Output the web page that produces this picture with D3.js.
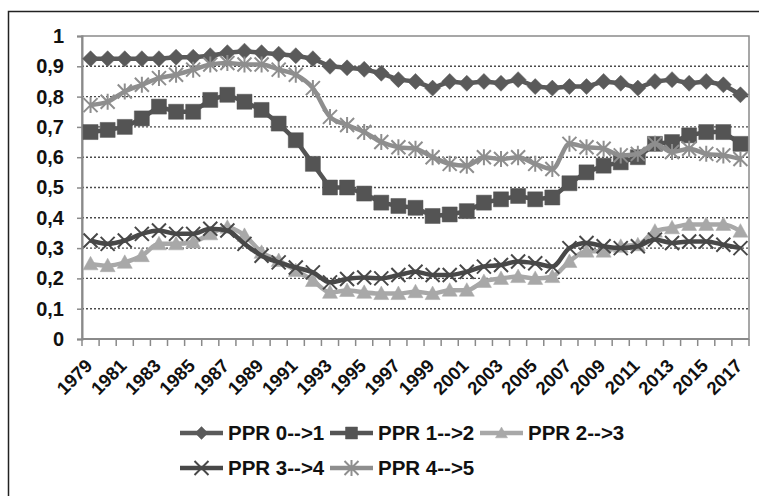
<!DOCTYPE html>
<html>
<head>
<meta charset="utf-8">
<script src="https://cdn.jsdelivr.net/npm/d3@7"></script>
<style>
  body { margin: 0; background: #fff; }
  svg { display: block; font-family: "Liberation Sans", Arial, sans-serif; }
</style>
</head>
<body>
<svg id="chart" width="759" height="496"></svg>
<script>
// years on the category axis
var years = d3.range(1979, 2018);
var yTicks = [0, 0.1, 0.2, 0.3, 0.4, 0.5, 0.6, 0.7, 0.8, 0.9, 1];

// values
var ppr01 = [0.925, 0.925, 0.925, 0.925, 0.925, 0.93, 0.93, 0.935, 0.945, 0.95,
  0.945, 0.94, 0.935, 0.925, 0.90, 0.895, 0.89, 0.877, 0.856, 0.85,
  0.828, 0.85, 0.844, 0.85, 0.844, 0.856, 0.833, 0.828, 0.833, 0.833,
  0.85, 0.844, 0.828, 0.85, 0.856, 0.844, 0.85, 0.839, 0.806];
var ppr12 = [0.683, 0.69, 0.70, 0.728, 0.767, 0.75, 0.75, 0.789, 0.806, 0.783,
  0.756, 0.711, 0.656, 0.578, 0.50, 0.50, 0.48, 0.45, 0.439, 0.433,
  0.406, 0.411, 0.422, 0.45, 0.461, 0.472, 0.461, 0.467, 0.514, 0.55,
  0.572, 0.583, 0.60, 0.644, 0.65, 0.672, 0.683, 0.683, 0.644];
var ppr23 = [0.248, 0.242, 0.253, 0.275, 0.314, 0.314, 0.32, 0.347, 0.369, 0.342,
  0.286, 0.259, 0.226, 0.193, 0.154, 0.16, 0.154, 0.15, 0.15, 0.156,
  0.15, 0.161, 0.161, 0.19, 0.20, 0.206, 0.20, 0.206, 0.256, 0.29,
  0.29, 0.306, 0.311, 0.356, 0.367, 0.378, 0.378, 0.378, 0.356];
var ppr34 = [0.325, 0.314, 0.325, 0.347, 0.358, 0.347, 0.347, 0.364, 0.358, 0.314,
  0.275, 0.253, 0.236, 0.22, 0.187, 0.198, 0.203, 0.20, 0.211, 0.222,
  0.211, 0.211, 0.222, 0.239, 0.244, 0.256, 0.25, 0.239, 0.30, 0.317,
  0.306, 0.30, 0.306, 0.328, 0.317, 0.322, 0.322, 0.311, 0.30];
var ppr45 = [0.772, 0.783, 0.817, 0.839, 0.861, 0.872, 0.889, 0.906, 0.911, 0.906,
  0.906, 0.889, 0.872, 0.828, 0.733, 0.706, 0.683, 0.65, 0.633, 0.628,
  0.60, 0.578, 0.572, 0.60, 0.594, 0.60, 0.578, 0.561, 0.644, 0.633,
  0.628, 0.606, 0.611, 0.644, 0.617, 0.628, 0.611, 0.606, 0.594];

var seriesNames = ["PPR 0-->1", "PPR 1-->2", "PPR 2-->3", "PPR 3-->4", "PPR 4-->5"];

var series = [
  { name: seriesNames[0], values: ppr01, color: "#5a5a5a", marker: "diamond", curve: d3.curveLinear },
  { name: seriesNames[1], values: ppr12, color: "#545454", marker: "square", curve: d3.curveLinear },
  { name: seriesNames[2], values: ppr23, color: "#a8a8a8", marker: "triangle", curve: d3.curveMonotoneX },
  { name: seriesNames[3], values: ppr34, color: "#484848", marker: "x", curve: d3.curveMonotoneX },
  { name: seriesNames[4], values: ppr45, color: "#8e8e8e", marker: "star", curve: d3.curveMonotoneX }
];

var svg = d3.select("#chart");

// outer frame (only top and left edges visible)
svg.append("rect")
  .attr("x", 8.5).attr("y", 11.5)
  .attr("width", 800).attr("height", 600)
  .attr("fill", "none").attr("stroke", "#222").attr("stroke-width", 1.5);

var plotLeft = 82, plotRight = 749, plotTop = 36, plotBottom = 339;

var x = d3.scaleBand().domain(years).range([plotLeft, plotRight]);
var y = d3.scaleLinear().domain([0, 1]).range([plotBottom, plotTop]);

// dotted gridlines
svg.append("g").selectAll("line")
  .data(yTicks.filter(function(d) { return d > 0 && d < 1; }))
  .join("line")
  .attr("x1", plotLeft).attr("x2", plotRight)
  .attr("y1", function(d) { return y(d); })
  .attr("y2", function(d) { return y(d); })
  .attr("stroke", "#4a4a4a")
  .attr("stroke-width", 1.4)
  .attr("stroke-dasharray", "2,2");

// plot frame
svg.append("rect")
  .attr("x", plotLeft).attr("y", plotTop)
  .attr("width", plotRight - plotLeft).attr("height", plotBottom - plotTop)
  .attr("fill", "none").attr("stroke", "#8a8a8a").attr("stroke-width", 1.5);

// y axis
var yAxis = svg.append("g")
  .attr("transform", "translate(" + plotLeft + ",0)")
  .call(d3.axisLeft(y).tickValues(yTicks).tickSize(5).tickPadding(13)
    .tickFormat(function(d) { return d3.format(".1~f")(d).replace(".", ","); }));
yAxis.select(".domain").attr("stroke", "#8a8a8a").attr("stroke-width", 2);
yAxis.selectAll(".tick line").attr("stroke", "#8a8a8a").attr("stroke-width", 1.5);
yAxis.selectAll("text")
  .attr("font-size", 20).attr("font-weight", "bold").attr("fill", "#111")
  .attr("font-family", "Liberation Sans, Arial, sans-serif");

// x axis: ticks at category boundaries
var boundaries = years.map(function(d) { return x(d); }).concat([plotRight]);
svg.append("g").selectAll("line")
  .data(boundaries)
  .join("line")
  .attr("x1", function(d) { return d; }).attr("x2", function(d) { return d; })
  .attr("y1", plotBottom).attr("y2", plotBottom + 7)
  .attr("stroke", "#8a8a8a").attr("stroke-width", 1.5);
svg.append("line")
  .attr("x1", plotLeft).attr("x2", plotRight).attr("y1", plotBottom).attr("y2", plotBottom)
  .attr("stroke", "#8a8a8a").attr("stroke-width", 2);

svg.append("g").selectAll("text")
  .data(years.filter(function(d, i) { return i % 2 === 0; }))
  .join("text")
  .attr("transform", function(d) {
    return "translate(" + (x(d) + x.bandwidth() / 2 + 3) + "," + (plotBottom + 28) + ") rotate(-45)";
  })
  .attr("text-anchor", "end")
  .attr("font-size", 18.5).attr("font-weight", "bold").attr("fill", "#111")
  .text(function(d) { return d; });

// marker shapes
function markerPath(type, k) {
  k = k || 1;
  switch (type) {
    case "diamond": return "M0," + (-8 * k) + "L" + (8 * k) + ",0L0," + (8 * k) + "L" + (-8 * k) + ",0Z";
    case "square": return "M" + (-7.5 * k) + "," + (-7.5 * k) + "H" + (7.5 * k) + "V" + (7.5 * k) + "H" + (-7.5 * k) + "Z";
    case "triangle": return "M0," + (-7.5 * k) + "L" + (7.5 * k) + "," + (6 * k) + "L" + (-7.5 * k) + "," + (6 * k) + "Z";
    case "x": return "M-7,-7L7,7M-7,7L7,-7";
    case "star": return "M-7,-7L7,7M-7,7L7,-7M0,-8V8";
  }
}
function isStroked(type) { return type === "x" || type === "star"; }

function drawMarkers(g, s, pts) {
  g.selectAll("path.mk")
    .data(pts)
    .join("path")
    .attr("class", "mk")
    .attr("transform", function(p) { return "translate(" + p[0] + "," + p[1] + ")"; })
    .attr("d", markerPath(s.marker))
    .attr("fill", isStroked(s.marker) ? "none" : s.color)
    .attr("stroke", s.color)
    .attr("stroke-width", isStroked(s.marker) ? 2 : 0.5);
}

// draw series, back to front in the same order as Excel
series.forEach(function(s) {
  var pts = s.values.map(function(v, i) {
    return [x(years[i]) + x.bandwidth() / 2, y(v)];
  });
  var g = svg.append("g");
  g.append("path")
    .attr("d", d3.line().curve(s.curve)(pts))
    .attr("fill", "none")
    .attr("stroke", s.color)
    .attr("stroke-width", 4.5)
    .attr("stroke-linejoin", "round");
  drawMarkers(g, s, pts);
});

// legend
var legendPos = [[180, 433], [330, 433], [480, 433], [180, 468], [330, 468]];
var legend = svg.append("g").selectAll("g")
  .data(series)
  .join("g")
  .attr("transform", function(d, i) { return "translate(" + legendPos[i][0] + "," + legendPos[i][1] + ")"; });
legend.append("line")
  .attr("x1", 0).attr("x2", 43).attr("y1", 0).attr("y2", 0)
  .attr("stroke", function(d) { return d.color; })
  .attr("stroke-width", 4.5);
legend.append("path")
  .attr("transform", "translate(21.5,0)")
  .attr("d", function(d) { return markerPath(d.marker, 0.8); })
  .attr("fill", function(d) { return isStroked(d.marker) ? "none" : d.color; })
  .attr("stroke", function(d) { return d.color; })
  .attr("stroke-width", function(d) { return isStroked(d.marker) ? 2 : 0.5; });
legend.append("text")
  .attr("x", 48).attr("y", 0).attr("dy", "0.35em")
  .attr("font-size", 20.5).attr("font-weight", "bold").attr("fill", "#111")
  .text(function(d) { return d.name; });
</script>
</body>
</html>
